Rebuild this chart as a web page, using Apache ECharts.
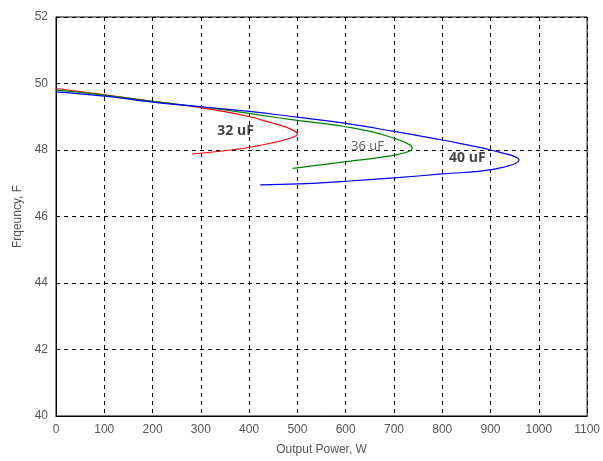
<!DOCTYPE html>
<html><head><meta charset="utf-8">
<script src="https://cdn.jsdelivr.net/npm/echarts@6/dist/echarts.min.js"></script>
<style>html,body{margin:0;padding:0;background:#fff}#c{width:603px;height:461px}</style>
</head><body><div id="c"></div>
<script>
const xTicks = [0,100,200,300,400,500,600,700,800,900,1000,1100];
const yTicks = [40,42,44,46,48,50,52];
const red32 = [[0,49.85],[97,49.67],[197,49.47],[296,49.28],[392,49.03],[446,48.82],[481,48.66],[500,48.48],[488,48.37],[446,48.21],[378,48.03],[282,47.88]];
const green36 = [[0,49.8],[100,49.65],[200,49.46],[300,49.3],[400,49.1],[460,48.97],[500,48.89],[600,48.7],[686,48.42],[738,48.05],[707,47.86],[600,47.65],[490,47.45]];
const blue40 = [[0,49.75],[100,49.62],[200,49.44],[300,49.3],[400,49.16],[460,49.06],[600,48.8],[700,48.56],[800,48.3],[900,48.0],[959,47.7],[905,47.42],[800,47.28],[700,47.16],[600,47.06],[500,46.98],[423,46.95]];
const labels = [
  {name:'32 uF', value:[372,48.57]},
  {name:'36 uF', value:[645,48.12]},
  {name:'40 uF', value:[852,47.75]}
];
const chart = echarts.init(document.getElementById('c'));
const axisCommon = {
  axisLine:{show:true,lineStyle:{color:'#000',width:1}},
  axisTick:{show:false},
  splitLine:{show:true,lineStyle:{color:'#000',type:[4,4],width:1}},
  axisLabel:{color:'#555',fontFamily:'Liberation Sans',fontSize:12,formatter:v=>String(v)},
  nameTextStyle:{color:'#555',fontFamily:'Liberation Sans',fontSize:12}
};
chart.setOption({
  animation:false,
  grid:{left:56,right:12,top:17,bottom:43,show:true,borderColor:'#000',borderWidth:1},
  xAxis:Object.assign({type:'value',min:0,max:1100,interval:100,name:'Output Power, W',nameLocation:'middle',nameGap:28},axisCommon),
  yAxis:Object.assign({type:'value',min:40,max:52,interval:2,name:'Frqeuncy, F',nameLocation:'middle',nameGap:32},axisCommon),
  series:[
    {type:'line',data:red32,smooth:0.4,showSymbol:false,lineStyle:{color:'#ff0000',width:1.2}},
    {type:'line',data:green36,smooth:0.4,showSymbol:false,lineStyle:{color:'#008000',width:1.2}},
    {type:'line',data:blue40,smooth:0.4,showSymbol:false,lineStyle:{color:'#0000ff',width:1.2}},
    {type:'scatter',symbolSize:1,itemStyle:{color:'rgba(0,0,0,0)'},
     data:labels.map((d,i)=>({name:d.name,value:d.value,label:{show:true,position:'inside',formatter:d.name,
       fontFamily:'Open Sans',fontWeight:i===1?'normal':'bold',fontSize:i===1?13:14,color:i===1?'#333':'#111'}}))}
  ]
});
</script></body></html>
